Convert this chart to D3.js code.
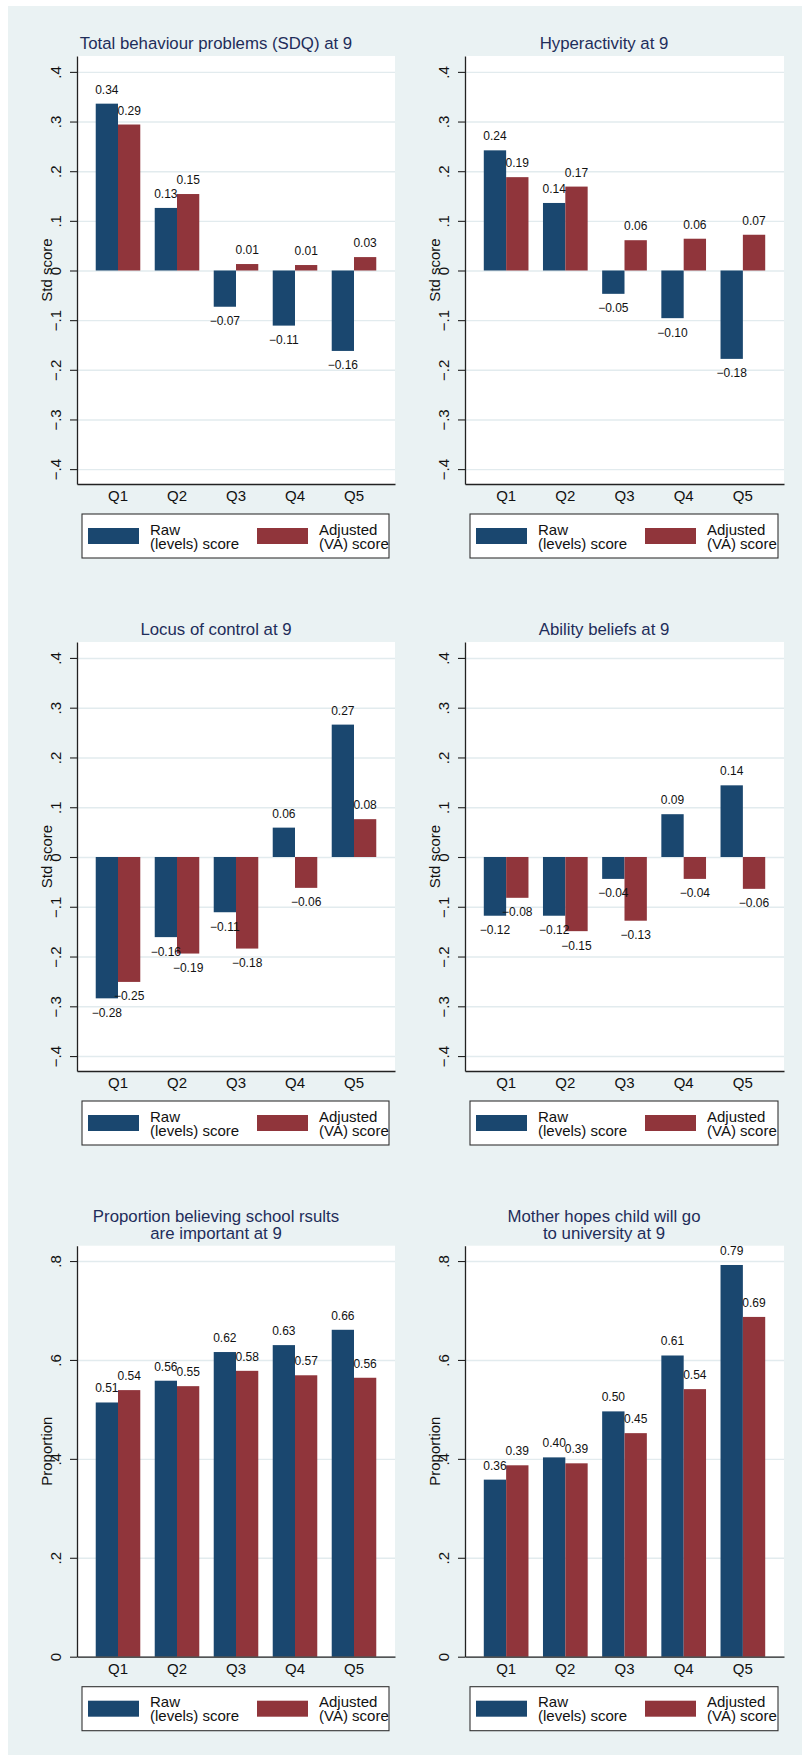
<!DOCTYPE html>
<html>
<head>
<meta charset="utf-8">
<script src="https://cdn.jsdelivr.net/npm/d3@7"></script>
<style>
  body { margin: 0; background: #fff; }
  svg { display: block; font-family: "Liberation Sans", Arial, Helvetica, sans-serif; }
</style>
</head>
<body>
<svg id="chart" width="802" height="1755"></svg>
<script>
// Categories and legend entries
const quintiles = ["Q1", "Q2", "Q3", "Q4", "Q5"];
const seriesLabels = [["Raw", "(levels) score"], ["Adjusted", "(VA) score"]];

// Series values by quintile
const sdqRaw      = [0.336, 0.126, -0.073, -0.111, -0.162];
const sdqAdj      = [0.294, 0.154, 0.013, 0.011, 0.027];
const hyperRaw    = [0.242, 0.136, -0.047, -0.096, -0.178];
const hyperAdj    = [0.188, 0.169, 0.061, 0.064, 0.072];
const locusRaw    = [-0.284, -0.161, -0.111, 0.059, 0.266];
const locusAdj    = [-0.251, -0.194, -0.184, -0.062, 0.076];
const abilityRaw  = [-0.118, -0.118, -0.044, 0.086, 0.144];
const abilityAdj  = [-0.082, -0.149, -0.128, -0.044, -0.064];
const schoolRaw   = [0.514, 0.558, 0.616, 0.630, 0.661];
const schoolAdj   = [0.539, 0.547, 0.578, 0.569, 0.564];
const uniRaw      = [0.358, 0.403, 0.496, 0.609, 0.792];
const uniAdj      = [0.387, 0.391, 0.452, 0.541, 0.687];

// Tick values and labels
const stdTicks = [-0.4, -0.3, -0.2, -0.1, 0, 0.1, 0.2, 0.3, 0.4];
const stdTickLabels = ["−.4", "−.3", "−.2", "−.1", "0", ".1", ".2", ".3", ".4"];
const propTicks = [0, 0.2, 0.4, 0.6, 0.8];
const propTickLabels = ["0", ".2", ".4", ".6", ".8"];

const stdDomain = [-0.43, 0.432];
const propDomain = [0, 0.831];

const panels = [
  { title: ["Total behaviour problems (SDQ) at 9"], series: [sdqRaw, sdqAdj], yTitle: "Std score",
    ticks: stdTicks, tickLabels: stdTickLabels, domain: stdDomain, col: 0, row: 0 },
  { title: ["Hyperactivity at 9"], series: [hyperRaw, hyperAdj], yTitle: "Std score",
    ticks: stdTicks, tickLabels: stdTickLabels, domain: stdDomain, col: 1, row: 0 },
  { title: ["Locus of control at 9"], series: [locusRaw, locusAdj], yTitle: "Std score",
    ticks: stdTicks, tickLabels: stdTickLabels, domain: stdDomain, col: 0, row: 1 },
  { title: ["Ability beliefs at 9"], series: [abilityRaw, abilityAdj], yTitle: "Std score",
    ticks: stdTicks, tickLabels: stdTickLabels, domain: stdDomain, col: 1, row: 1 },
  { title: ["Proportion believing school rsults", "are important at 9"], series: [schoolRaw, schoolAdj], yTitle: "Proportion",
    ticks: propTicks, tickLabels: propTickLabels, domain: propDomain, col: 0, row: 2 },
  { title: ["Mother hopes child will go", "to university at 9"], series: [uniRaw, uniAdj], yTitle: "Proportion",
    ticks: propTicks, tickLabels: propTickLabels, domain: propDomain, col: 1, row: 2 }
];

const colors = ["#1a476f", "#90353b"];
const titleColor = "#1e2d5a";
const textColor = "#111";

// Panel geometry
const cols = [{ axis: 77, right: 395 }, { axis: 465, right: 784 }];
const rows = [{ top: 56, bottom: 484 }, { top: 642, bottom: 1071 }, { top: 1245.7, bottom: 1656.7 }];

const svg = d3.select("#chart");
const fmt = d3.format(".2f");

// Graph region background
svg.append("rect").attr("x", 8).attr("y", 6).attr("width", 794).attr("height", 1749).attr("fill", "#eaf2f3");

panels.forEach((p, pi) => {
  const c = cols[p.col], r = rows[p.row];
  const g = svg.append("g");
  const plotW = c.right - c.axis;

  const x = d3.scaleBand().domain(quintiles).range([c.axis, c.right])
    .paddingInner(0.245).paddingOuter(0.3175);
  const xs = d3.scaleBand().domain([0, 1]).range([0, x.bandwidth()]);
  const y = d3.scaleLinear().domain(p.domain).range([r.bottom, r.top]);

  // Plot region
  g.append("rect").attr("x", c.axis).attr("y", r.top).attr("width", plotW)
    .attr("height", r.bottom - r.top).attr("fill", "#fff");

  // Gridlines
  g.append("g").attr("transform", `translate(${c.axis},0)`)
    .call(d3.axisLeft(y).tickValues(p.ticks).tickSize(-plotW).tickFormat(""))
    .call(s => s.select(".domain").remove())
    .call(s => s.selectAll("line").attr("stroke", "#e2ebee").attr("stroke-width", 1.4));

  // Title
  const tLines = p.title;
  const tStart = r.top - 7 - (tLines.length - 1) * 16.6;
  g.append("text").attr("x", c.axis + 139).attr("text-anchor", "middle")
    .attr("font-size", 16.8).attr("fill", titleColor)
    .selectAll("tspan").data(tLines).join("tspan")
    .attr("x", c.axis + 139).attr("y", (d, i) => tStart + i * 16.6).text(d => d);

  // Bars
  p.series.forEach((vals, si) => {
    g.append("g").selectAll("rect").data(vals).join("rect")
      .attr("x", (d, i) => x(quintiles[i]) + xs(si))
      .attr("width", xs.bandwidth())
      .attr("y", d => y(Math.max(0, d)))
      .attr("height", d => Math.abs(y(d) - y(0)))
      .attr("fill", colors[si]);
  });

  // Value labels
  p.series.forEach((vals, si) => {
    g.append("g").selectAll("text").data(vals).join("text")
      .attr("x", (d, i) => x(quintiles[i]) + xs(si) + xs.bandwidth() / 2)
      .attr("y", d => d >= 0 ? y(d) - 10 : y(d) + 18.5)
      .attr("text-anchor", "middle").attr("font-size", 12).attr("fill", textColor)
      .text(d => fmt(d));
  });

  // Y axis
  const yAxis = g.append("g").attr("transform", `translate(${c.axis},0)`)
    .call(d3.axisLeft(y).tickValues(p.ticks).tickSizeInner(7).tickSizeOuter(0)
      .tickFormat((d, i) => p.tickLabels[i]));
  yAxis.attr("font-family", null).attr("font-size", 15);
  yAxis.select(".domain").attr("stroke", "#222").attr("stroke-width", 1.3);
  yAxis.selectAll(".tick line").attr("stroke", "#222").attr("stroke-width", 1.1);
  yAxis.selectAll(".tick text")
    .attr("x", null).attr("dy", null)
    .attr("text-anchor", "middle")
    .attr("transform", "translate(-16,0) rotate(-90)")
    .attr("font-size", 15).attr("fill", textColor);

  // Y axis title
  g.append("text")
    .attr("transform", `translate(${c.axis - 25},${(r.top + r.bottom) / 2}) rotate(-90)`)
    .attr("text-anchor", "middle").attr("font-size", 15).attr("fill", textColor)
    .text(p.yTitle);

  // X axis
  const xAxis = g.append("g").attr("transform", `translate(0,${r.bottom})`)
    .call(d3.axisBottom(x).tickSize(0).tickPadding(6.3));
  xAxis.attr("font-family", null).attr("font-size", 15);
  xAxis.select(".domain").attr("stroke", "#222").attr("stroke-width", 1.3);
  xAxis.selectAll(".tick text").attr("font-size", 15).attr("fill", textColor);

  // Legend
  const lx = c.axis + 5, ly = r.bottom + 30, lw = plotW - 11, lh = 44;
  const clipId = "legclip" + pi;
  g.append("clipPath").attr("id", clipId)
    .append("rect").attr("x", lx).attr("y", ly).attr("width", lw).attr("height", lh);
  const leg = g.append("g");
  leg.append("rect").attr("x", lx).attr("y", ly).attr("width", lw).attr("height", lh)
    .attr("fill", "#fff");
  const items = leg.append("g").attr("clip-path", `url(#${clipId})`);
  seriesLabels.forEach((lab, si) => {
    const ox = lx + 6 + si * 169;
    items.append("rect").attr("x", ox).attr("y", ly + 14).attr("width", 51).attr("height", 16)
      .attr("fill", colors[si]);
    items.append("text").attr("font-size", 15).attr("fill", textColor)
      .selectAll("tspan").data(lab).join("tspan")
      .attr("x", ox + 62).attr("y", (d, i) => ly + 20.5 + i * 14).text(d => d);
  });
  leg.append("rect").attr("x", lx).attr("y", ly).attr("width", lw).attr("height", lh)
    .attr("fill", "none").attr("stroke", "#333").attr("stroke-width", 1.1);
});
</script>
</body>
</html>
